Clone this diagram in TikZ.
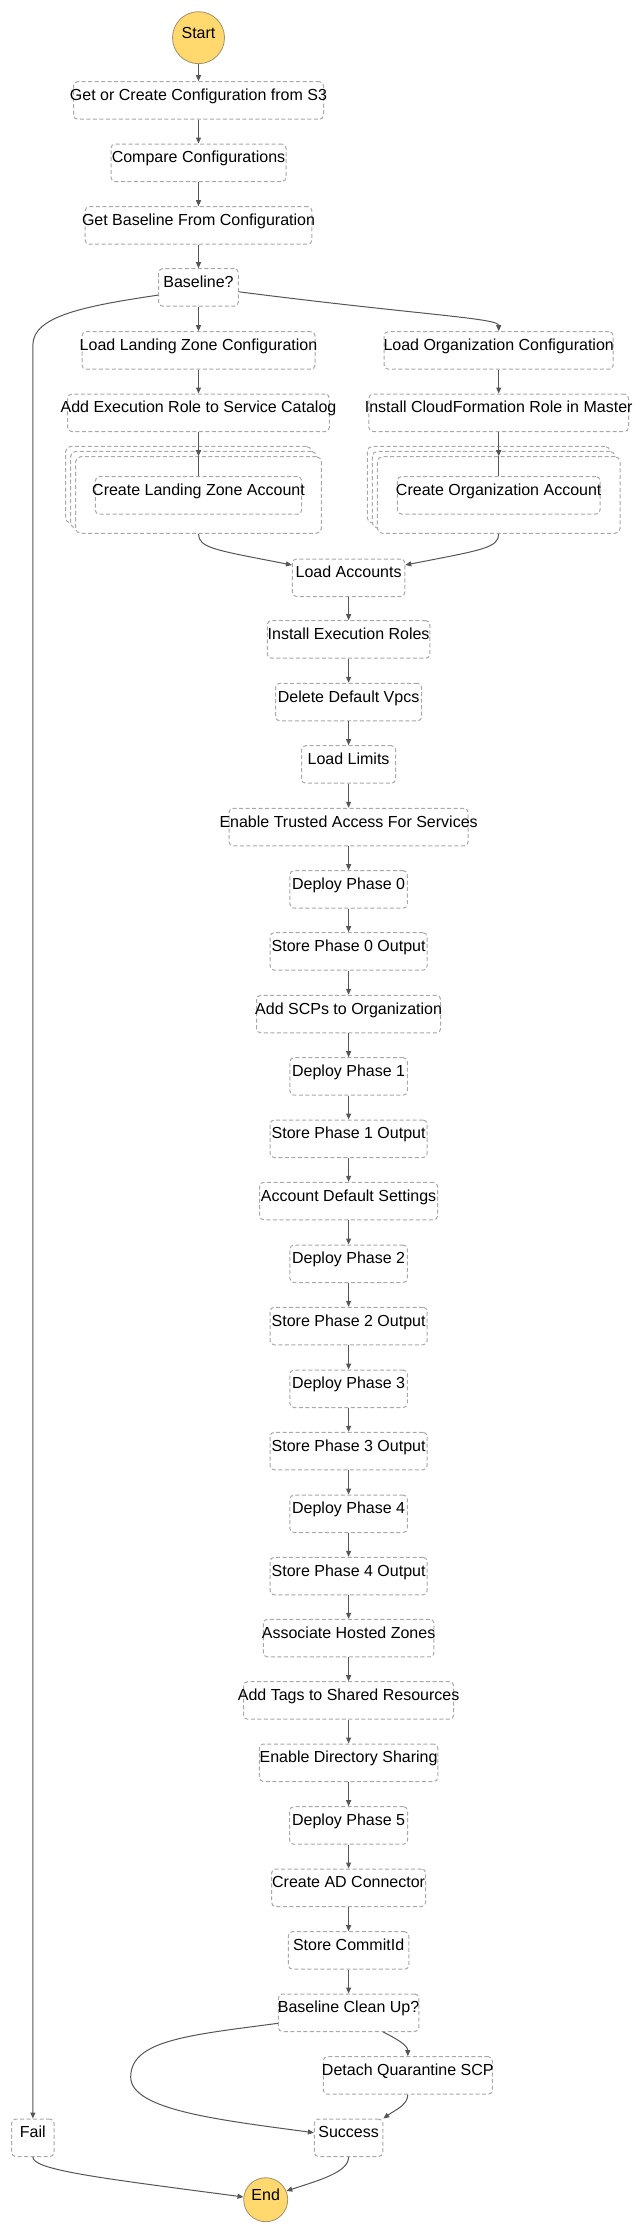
\documentclass[tikz,border=0pt]{standalone}
\usepackage{fontspec}
\setmainfont{Liberation Sans}
\usetikzlibrary{arrows.meta,calc}
\definecolor{boxline}{HTML}{A8A8A8}
\definecolor{edgecol}{HTML}{555555}
\definecolor{termfill}{HTML}{FFD86E}
\definecolor{termline}{HTML}{A09070}
\tikzset{
  statebox/.style={draw=boxline, dash pattern=on 4pt off 2.5pt, rounded corners=4pt,
    line width=1pt, fill=white, inner sep=0pt, minimum height=37.5pt,
    text height=18.8pt, text depth=18.7pt, font=\fontsize{16pt}{19pt}\selectfont},
  groupbox/.style={draw=boxline, dash pattern=on 4pt off 2.5pt, rounded corners=5pt,
    line width=1pt, fill=white, inner sep=0pt, minimum height=76.6pt},
  term/.style={circle, draw=termline, fill=termfill, line width=0.8pt, inner sep=0pt,
    text height=11.6pt, text depth=9.6pt, font=\fontsize{16pt}{19pt}\selectfont},
  edge/.style={draw=edgecol, line width=1pt, -{Triangle[length=6pt,width=5pt]}},
  plainedge/.style={draw=edgecol, line width=1pt},
}
\newcommand\stnode[5]{\node[statebox, minimum width=#4pt] (#1) at (#2,#3+18.75) {\makebox[0pt]{#5}};}
\begin{document}
\begin{tikzpicture}[x=1pt,y=-1pt]
\useasboundingbox (0,0) rectangle (641,2235);
% terminals
\node[term, minimum size=52pt] (start) at (198.5,37.7) {Start};
\node[term, minimum size=44pt] (endn) at (265.7,2199.7) {End};
% top column
\stnode{getcfg}{198.5}{81.7}{250}{Get or Create Configuration from S3}
\stnode{compare}{198.5}{144}{175}{Compare Configurations}
\stnode{getbase}{198.5}{206.7}{226.7}{Get Baseline From Configuration}
\stnode{baseline}{198.5}{268.7}{79.6}{Baseline?}
% left branch
\stnode{loadlz}{198.5}{331.7}{233}{Load Landing Zone Configuration}
\stnode{addexec}{198.5}{394}{261.6}{Add Execution Role to Service Catalog}
\node[groupbox, minimum width=245.7pt] (lzback2) at (188.5,484.7) {};
\node[groupbox, minimum width=245.7pt] (lzback1) at (193.5,489.7) {};
\node[groupbox, minimum width=245.7pt] (lzgroup) at (198.5,495) {};
\stnode{createlz}{198.5}{476.7}{206.4}{Create Landing Zone Account}
% right branch
\stnode{loadorg}{498.7}{331.7}{229}{Load Organization Configuration}
\stnode{installcf}{498.7}{394}{259.6}{Install CloudFormation Role in Master}
\node[groupbox, minimum width=242.7pt] (orgback2) at (488.7,484.7) {};
\node[groupbox, minimum width=242.7pt] (orgback1) at (493.7,489.7) {};
\node[groupbox, minimum width=242.7pt] (orggroup) at (498.7,495) {};
\stnode{createorg}{498.7}{476.5}{202.7}{Create Organization Account}
% main column
\stnode{loadacc}{348.6}{559}{112.3}{Load Accounts}
\stnode{instexec}{348.6}{620.7}{162.7}{Install Execution Roles}
\stnode{delvpc}{348.6}{683.3}{146}{Delete Default Vpcs}
\stnode{loadlim}{348.6}{745.7}{94}{Load Limits}
\stnode{trusted}{348.6}{808.3}{239}{Enable Trusted Access For Services}
\stnode{dep0}{348.6}{870.7}{117.3}{Deploy Phase 0}
\stnode{sto0}{348.6}{932.7}{157}{Store Phase 0 Output}
\stnode{addscp}{348.6}{995.3}{184}{Add SCPs to Organization}
\stnode{dep1}{348.6}{1057.7}{117.3}{Deploy Phase 1}
\stnode{sto1}{348.6}{1120}{157}{Store Phase 1 Output}
\stnode{acctdef}{348.6}{1182.3}{178}{Account Default Settings}
\stnode{dep2}{348.6}{1245}{117.3}{Deploy Phase 2}
\stnode{sto2}{348.6}{1307.3}{157}{Store Phase 2 Output}
\stnode{dep3}{348.6}{1370}{117.3}{Deploy Phase 3}
\stnode{sto3}{348.6}{1432.3}{157}{Store Phase 3 Output}
\stnode{dep4}{348.6}{1495}{117.3}{Deploy Phase 4}
\stnode{sto4}{348.6}{1557.3}{157}{Store Phase 4 Output}
\stnode{assoc}{348.6}{1619.3}{170.7}{Associate Hosted Zones}
\stnode{addtags}{348.6}{1681.7}{210}{Add Tags to Shared Resources}
\stnode{dirshare}{348.6}{1744}{178.4}{Enable Directory Sharing}
\stnode{dep5}{348.6}{1806.7}{118}{Deploy Phase 5}
\stnode{adconn}{348.6}{1869}{154}{Create AD Connector}
\stnode{commit}{348.6}{1931.7}{120.4}{Store CommitId}
\stnode{cleanup}{348.6}{1994}{140.4}{Baseline Clean Up?}
\stnode{detach}{407.8}{2056.7}{169}{Detach Quarantine SCP}
\stnode{success}{348.6}{2119}{68.4}{Success}
\stnode{fail}{32.85}{2119}{42.3}{Fail}
% connectors
\draw[edge] (start) -- (getcfg);
\draw[edge] (getcfg) -- (compare);
\draw[edge] (compare) -- (getbase);
\draw[edge] (getbase) -- (baseline);
\draw[edge] (baseline) -- (loadlz);
\draw[edge] ($(baseline.east)+(0,4.35)$) .. controls (420,315) and (498.7,318) .. (loadorg.north);
\draw[edge] ($(baseline.west)+(0,7.65)$) .. controls (85,306) and (32.85,316) .. (32.85,345) -- (fail.north);
\draw[edge] (loadlz) -- (addexec);
\draw[edge] (loadorg) -- (installcf);
\draw[edge] (addexec.south) -- (lzgroup.north);
\draw[plainedge] (lzgroup.north) -- (createlz.north);
\draw[edge] (installcf.south) -- (orggroup.north);
\draw[plainedge] (orggroup.north) -- (createorg.north);
\draw[edge] (lzgroup.south) .. controls (198.5,548) and (215,550) .. ($(loadacc.west)+(0,-12.75)$);
\draw[edge] (orggroup.south) .. controls (498.7,548) and (482,550) .. ($(loadacc.east)+(0,-12.75)$);
\foreach \a/\b in {loadacc/instexec, instexec/delvpc, delvpc/loadlim, loadlim/trusted,
  trusted/dep0, dep0/sto0, sto0/addscp, addscp/dep1, dep1/sto1, sto1/acctdef,
  acctdef/dep2, dep2/sto2, sto2/dep3, dep3/sto3, sto3/dep4, dep4/sto4, sto4/assoc,
  assoc/addtags, addtags/dirshare, dirshare/dep5, dep5/adconn, adconn/commit, commit/cleanup}
  \draw[edge] (\a) -- (\b);
\draw[edge] ($(cleanup.south)+(34.7,0)$) .. controls (395,2038) and (407.8,2045) .. (detach.north);
\draw[edge] ($(cleanup.west)+(0,10.55)$) .. controls (190,2035) and (130.7,2040) .. (130.7,2077)
  .. controls (130.7,2110) and (220,2120) .. ($(success.west)+(0,-5.05)$);
\draw[edge] (detach.south) .. controls (407.8,2105) and (395,2110) .. (success.north east);
\draw[edge] (success.south) .. controls (348.6,2172) and (320,2180) .. (endn.23);
\draw[edge] (fail.south) .. controls (32.85,2170) and (100,2178) .. (endn.173);
\end{tikzpicture}
\end{document}
